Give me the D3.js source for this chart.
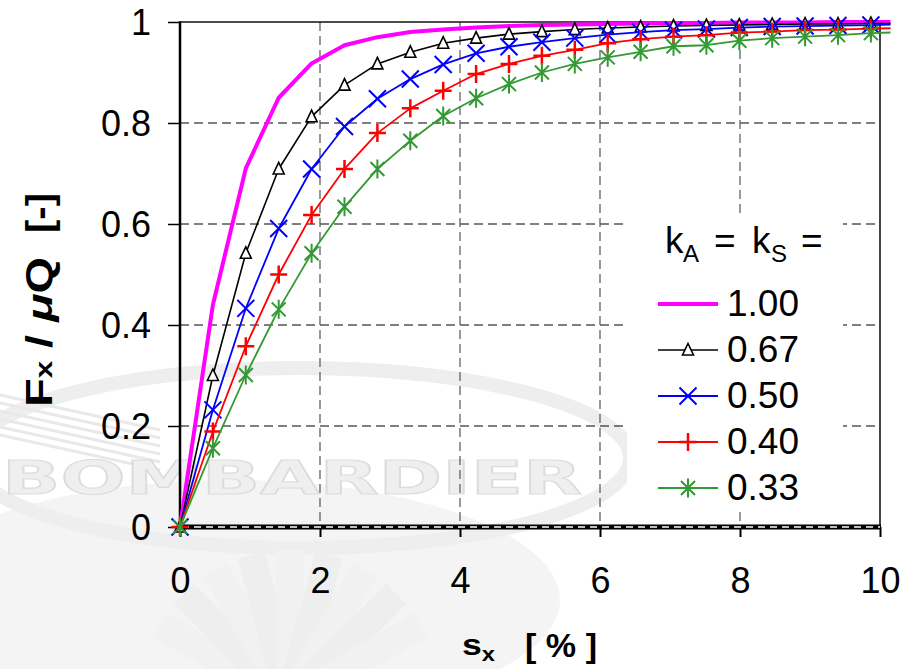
<!DOCTYPE html>
<html><head><meta charset="utf-8">
<script src="https://cdn.jsdelivr.net/npm/d3@7"></script>
<style>body{margin:0;background:#fff}</style>
</head><body>
<svg id="c" width="903" height="669"></svg>
<script>
// ---- data ----
const xVals = [0,0.47,0.94,1.41,1.88,2.35,2.82,3.29,3.76,4.23,4.70,5.17,5.64,6.11,6.58,7.05,7.52,7.99,8.46,8.93,9.40,9.87,10.34];
const k100 = [0,0.44,0.71,0.85,0.918,0.954,0.970,0.980,0.985,0.989,0.992,0.994,0.995,0.996,0.997,0.998,0.998,0.999,0.999,0.999,1.0,1.0,1.0];
const k067 = [0,0.30,0.542,0.709,0.8125,0.875,0.917,0.940,0.958,0.968,0.976,0.981,0.985,0.988,0.990,0.992,0.993,0.994,0.995,0.996,0.996,0.997,0.997];
const k050 = [0,0.232,0.433,0.591,0.709,0.793,0.848,0.887,0.916,0.938,0.951,0.960,0.968,0.975,0.980,0.984,0.986,0.989,0.991,0.992,0.993,0.994,0.995];
const k040 = [0,0.189,0.358,0.500,0.618,0.709,0.780,0.829,0.864,0.897,0.917,0.933,0.945,0.958,0.966,0.971,0.974,0.979,0.981,0.984,0.985,0.987,0.988];
const k033 = [0,0.156,0.301,0.431,0.542,0.634,0.709,0.765,0.814,0.849,0.877,0.900,0.917,0.930,0.941,0.952,0.954,0.963,0.968,0.971,0.974,0.978,0.980];
const legendLabels = ["1.00","0.67","0.50","0.40","0.33"];
const xTicks = [0,2,4,6,8,10];
const xTickLabels = ["0","2","4","6","8","10"];
const yTicks = [0,0.2,0.4,0.6,0.8,1];
const yTickLabels = ["0","0.2","0.4","0.6","0.8","1"];
const xGrid = [2,4,6,8];
const yGrid = [0.2,0.4,0.6,0.8];

// ---- setup ----
const svg = d3.select("#c");
const FONT = "'Liberation Sans', Arial, Helvetica, sans-serif";
const x = d3.scaleLinear([0,10],[180,880]);
const y = d3.scaleLinear([0,1],[527,22]);

// ---- faint watermark ----
const wm = svg.append("g");
wm.append("ellipse").attr("cx",230).attr("cy",600).attr("rx",330).attr("ry",120).attr("fill","#f4f4f4");
wm.append("ellipse").attr("cx",300).attr("cy",458).attr("rx",330).attr("ry",90)
  .attr("fill","none").attr("stroke","#eeeeee").attr("stroke-width",14);
for (let i=0;i<9;i++){
  const a = -150 + i*15;
  wm.append("rect").attr("x",-14).attr("y",-150).attr("width",28).attr("height",120)
    .attr("fill", i%2 ? "#eeeeee" : "#f1f1f1")
    .attr("transform",`translate(290,700) rotate(${a+90})`);
}
for (let i=0;i<6;i++){
  wm.append("line").attr("x1",0).attr("y1",395+i*8).attr("x2",160).attr("y2",430+i*8)
    .attr("stroke","#e9e9e9").attr("stroke-width",3);
}
wm.append("text").attr("x",2).attr("y",494)
  .attr("font-family","'DejaVu Sans', sans-serif").attr("font-weight","bold").attr("font-size",46)
  .attr("textLength",580).attr("lengthAdjust","spacingAndGlyphs")
  .attr("fill","#efefef").attr("stroke","#dcdcdc").attr("stroke-width",1.2)
  .text("BOMBARDIER");

// ---- grid ----
svg.append("g").selectAll("line").data(yGrid).join("line")
  .attr("x1",x(0)).attr("x2",x(10)).attr("y1",d=>y(d)).attr("y2",d=>y(d))
  .attr("stroke","#000").attr("stroke-width",1).attr("stroke-dasharray","9,5");
svg.append("g").selectAll("line").data(xGrid).join("line")
  .attr("x1",d=>x(d)).attr("x2",d=>x(d)).attr("y1",y(1)).attr("y2",y(0))
  .attr("stroke","#555").attr("stroke-width",1.2).attr("stroke-dasharray","9,5");

// legend background
svg.append("rect").attr("x",627).attr("y",216).attr("width",216).attr("height",296).attr("fill","#fff");

// ---- frame ----
svg.append("line").attr("x1",x(0)).attr("x2",x(10)).attr("y1",y(1)).attr("y2",y(1))
  .attr("stroke","#111").attr("stroke-width",1.5);
svg.append("line").attr("x1",x(10)).attr("x2",x(10)).attr("y1",y(1)-0.75).attr("y2",y(0))
  .attr("stroke","#444").attr("stroke-width",2);

// ---- axes ----
const gy = svg.append("g").attr("transform",`translate(${x(0)},0)`)
  .call(d3.axisLeft(y).tickValues(yTicks).tickSize(12).tickFormat((d,i)=>yTickLabels[i]));
gy.select(".domain").remove();
gy.selectAll(".tick line").attr("stroke","#000").attr("stroke-width",1.5);
gy.selectAll(".tick text").attr("x",-29).attr("dy","0.36em")
  .attr("font-family",FONT).attr("font-size",36).attr("fill","#000");

const gx = svg.append("g").attr("transform",`translate(0,${y(0)})`)
  .call(d3.axisBottom(x).tickValues(xTicks).tickSize(10).tickFormat((d,i)=>xTickLabels[i]));
gx.select(".domain").remove();
gx.selectAll(".tick line").attr("stroke","#000").attr("stroke-width",2);
gx.selectAll(".tick text").attr("y",66).attr("dy",0)
  .attr("font-family",FONT).attr("font-size",36).attr("fill","#000");

svg.append("line").attr("x1",x(0)).attr("x2",x(0)).attr("y1",y(1)-0.75).attr("y2",y(0)+2)
  .attr("stroke","#000").attr("stroke-width",2.5);
svg.append("line").attr("x1",x(0)-1).attr("x2",x(10)+1).attr("y1",y(0)).attr("y2",y(0))
  .attr("stroke","#000").attr("stroke-width",5);
svg.append("line").attr("x1",x(0)+2).attr("x2",x(10)).attr("y1",y(0)).attr("y2",y(0))
  .attr("stroke","#fff").attr("stroke-width",1.3).attr("stroke-dasharray","7,5");

// ---- series ----
const markers = {
  tri: "M0,-6.5L5.5,5L-5.5,5Z",
  x: "M-8.5,-8.5L8.5,8.5M-8.5,8.5L8.5,-8.5",
  plus: "M-8.5,0H8.5M0,-9V9",
  star: "M-7,-7L7,7M-7,7L7,-7M0,-9.5V9.5"
};
const series = [
  {label:legendLabels[0], values:k100, color:"#ff00ff", lw:4,   m:null},
  {label:legendLabels[1], values:k067, color:"#000000", lw:1.6, m:"tri", mw:1.6, fill:"#fff"},
  {label:legendLabels[2], values:k050, color:"#0000ff", lw:1.8, m:"x", mw:2},
  {label:legendLabels[3], values:k040, color:"#ff0000", lw:1.8, m:"plus", mw:2.5},
  {label:legendLabels[4], values:k033, color:"#339933", lw:1.8, m:"star", mw:2}
];
svg.append("clipPath").attr("id","clip").append("rect")
  .attr("x",150).attr("y",0).attr("width",x(10.15)-150).attr("height",560);

const line = d3.line().x(d=>x(d[0])).y(d=>y(d[1]));
series.forEach(s=>{
  const pts = xVals.map((v,i)=>[v,s.values[i]]);
  svg.append("path").attr("clip-path","url(#clip)").attr("d",line(pts))
    .attr("fill","none").attr("stroke",s.color).attr("stroke-width",s.lw)
    .attr("stroke-linejoin","round");
  if (s.m){
    svg.append("g").selectAll("path").data(pts.filter(p=>p[0]<=10)).join("path")
      .attr("transform",d=>`translate(${x(d[0])},${y(d[1])})`)
      .attr("d",markers[s.m]).attr("fill",s.fill||"none")
      .attr("stroke",s.color).attr("stroke-width",s.mw);
  }
});

// ---- legend ----
const lg = svg.append("g").attr("font-family",FONT).attr("fill","#000");
const lt = lg.append("text").attr("y",253).attr("font-size",37);
lt.append("tspan").attr("x",665).text("k");
lt.append("tspan").attr("x",683).attr("dy",9).attr("font-size",24).text("A");
lt.append("tspan").attr("x",714).attr("dy",-9).text("=");
lt.append("tspan").attr("x",752).text("k");
lt.append("tspan").attr("x",771).attr("dy",9).attr("font-size",24).text("S");
lt.append("tspan").attr("x",801).attr("dy",-9).text("=");

series.forEach((s,i)=>{
  const yy = 304 + i*46;
  lg.append("line").attr("x1",658).attr("x2",718).attr("y1",yy).attr("y2",yy)
    .attr("stroke",s.color).attr("stroke-width",s.lw);
  if (s.m){
    lg.append("path").attr("transform",`translate(688,${yy})`).attr("d",markers[s.m])
      .attr("fill",s.fill||"none").attr("stroke",s.color).attr("stroke-width",s.mw);
  }
  lg.append("text").attr("x",727).attr("y",yy+12).attr("font-size",37).text(s.label);
});

// ---- axis titles ----
const yt = svg.append("text").attr("font-family",FONT).attr("font-weight","bold").attr("font-size",36)
  .attr("transform","translate(52,407) rotate(-90)")
  .attr("textLength",150).attr("lengthAdjust","spacingAndGlyphs");
yt.append("tspan").text("F");
yt.append("tspan").attr("font-size",24).text("x");
yt.append("tspan").text(" / ");
yt.append("tspan").attr("font-style","italic").text("μ");
yt.append("tspan").text("Q");
svg.append("text").attr("font-family",FONT).attr("font-weight","bold").attr("font-size",36)
  .attr("transform","translate(52,233) rotate(-90)")
  .attr("textLength",40).attr("lengthAdjust","spacingAndGlyphs").text("[-]");

const xt = svg.append("text").attr("font-family",FONT).attr("font-weight","bold").attr("font-size",30)
  .attr("x",462).attr("y",655).attr("textLength",33).attr("lengthAdjust","spacingAndGlyphs");
xt.append("tspan").text("s");
xt.append("tspan").attr("font-size",20).attr("dy",6).text("x");
svg.append("text").attr("font-family",FONT).attr("font-weight","bold").attr("font-size",34)
  .attr("x",525).attr("y",657).attr("textLength",72).attr("lengthAdjust","spacingAndGlyphs")
  .text("[ % ]");
</script>
</body></html>
